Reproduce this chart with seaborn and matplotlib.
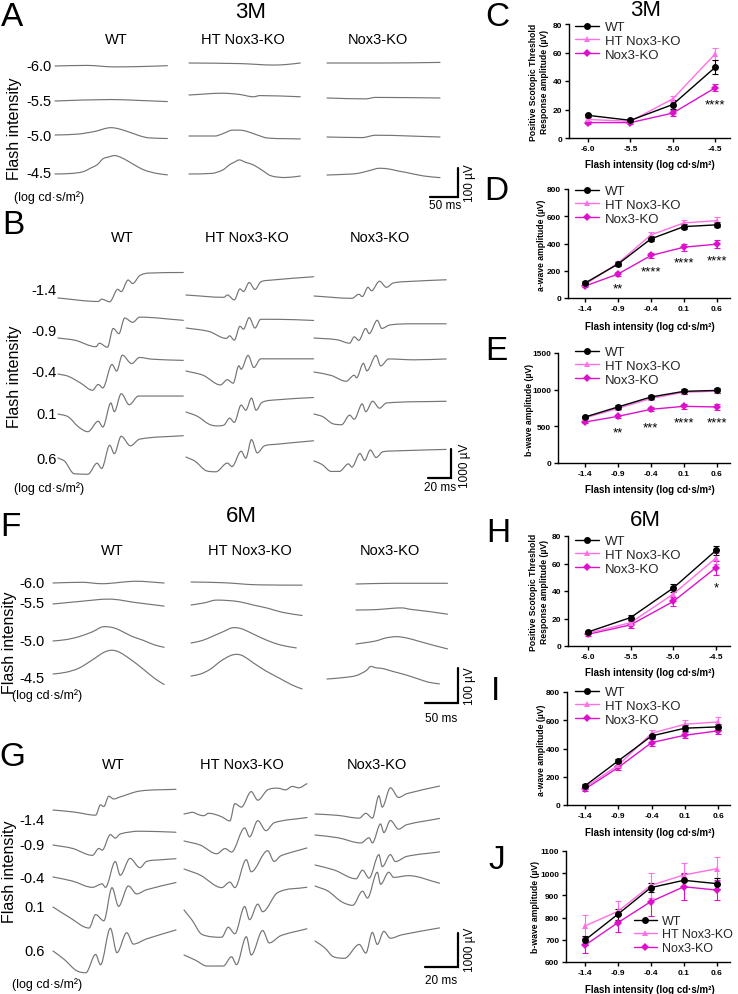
import numpy as np
import pandas as pd
import matplotlib
matplotlib.use("Agg")
import matplotlib.pyplot as plt
from matplotlib.lines import Line2D
from matplotlib.path import Path
from matplotlib.patches import PathPatch
import seaborn as sns

# ---------------- data: summary graphs ----------------
GROUPS = ["WT", "HT Nox3-KO", "Nox3-KO"]
X_SCOT = ["-6.0", "-5.5", "-5.0", "-4.5"]
X_PHOT = ["-1.4", "-0.9", "-0.4", "0.1", "0.6"]

C_WT = [15.9, 12.4, 23.5, 49.6]; C_WT_E = [1.0, 0.8, 3.0, 5.0]
C_HT = [13.0, 11.7, 27.5, 59.0]; C_HT_E = [1.0, 0.8, 2.0, 4.0]
C_KO = [10.8, 10.8, 17.5, 35.2]; C_KO_E = [1.0, 0.8, 2.0, 2.5]

D_WT = [110, 249, 434, 524, 537]; D_WT_E = [12, 12, 18, 20, 18]
D_HT = [100, 256, 463, 551, 568]; D_HT_E = [12, 14, 22, 25, 25]
D_KO = [88, 176, 312, 373, 395]; D_KO_E = [10, 12, 20, 25, 28]

E_WT = [627, 764, 900, 977, 990]; E_WT_E = [20, 28, 28, 35, 35]
E_HT = [615, 745, 880, 965, 980]; E_HT_E = [20, 25, 25, 30, 30]
E_KO = [559, 636, 732, 773, 764]; E_KO_E = [20, 25, 25, 35, 35]

H_WT = [10.2, 20.7, 42.2, 69.5]; H_WT_E = [1.0, 2.0, 3.0, 3.0]
H_HT = [9.3, 17.0, 37.8, 64.0]; H_HT_E = [1.0, 2.0, 3.0, 4.0]
H_KO = [8.5, 15.4, 32.4, 57.0]; H_KO_E = [1.0, 2.5, 3.5, 5.0]

I_WT = [136, 313, 489, 544, 553]; I_WT_E = [12, 15, 15, 20, 20]
I_HT = [125, 282, 508, 572, 588]; I_HT_E = [15, 20, 25, 30, 35]
I_KO = [113, 266, 442, 494, 525]; I_KO_E = [12, 18, 22, 22, 25]

J_WT = [698, 815, 935, 968, 953]; J_WT_E = [20, 25, 20, 30, 25]
J_HT = [762, 828, 945, 992, 1020]; J_HT_E = [50, 45, 55, 55, 55]
J_KO = [675, 777, 872, 939, 924]; J_KO_E = [35, 40, 65, 60, 45]

# stars: (category index, value)
C_STARS = [(3, 27, "****")]
D_STARS = [(1, 105, "**"), (2, 227, "****"), (3, 295, "****"), (4, 307, "****")]
E_STARS = [(1, 482, "**"), (2, 550, "***"), (3, 614, "****"), (4, 614, "****")]
H_STARS = [(3, 46, "*")]

# ---------------- data: representative traces (time ms, amplitude uV) ----------------
A_WT = [
    [(0, 0), (56, 2), (105, -3), (148, -2), (199, 1)],
    [(0, 0), (99, 5), (148, 2), (199, -2)],
    [(0, 0), (40, 3), (70, 12), (99, 25), (115, 20), (140, 4), (160, -8), (180, -11), (199, -12)],
    [(0, 0), (30, 2), (50, 8), (65, 22), (75, 32), (85, 52), (95, 58), (105, 63), (115, 58),
     (130, 43), (145, 26), (160, 12), (180, 2), (199, -3)],
]
A_HT = [
    [(0, 0), (89, -2), (151, -7), (173, -5), (197, 0)],
    [(0, 0), (59, 6), (89, 2), (114, -6), (126, -2), (197, -6)],
    [(0, 0), (46, 0), (60, 8), (77, 20), (90, 20), (102, 16), (120, 4), (139, -7), (170, -9), (197, -10)],
    [(0, 0), (40, 2), (60, 14), (72, 32), (80, 40), (89, 48), (100, 40), (114, 31), (130, 12),
     (145, -6), (170, -12), (197, -7)],
]
A_KO = [
    [(0, 0), (100, 0), (200, 2)],
    [(0, 0), (68, -3), (86, 2), (200, 0)],
    [(0, 0), (62, -2), (86, 6), (200, 0)],
    [(0, 0), (40, 3), (56, 6), (75, 15), (93, 23), (111, 20), (125, 14), (142, 8), (170, -3), (200, -9)],
]

B_WT = [
    [(0, 0), (35, -120), (38, -40), (45, -130), (52, 300), (55, 220), (61, 620), (65, 500), (71, 770),
     (79, 860), (109, 880)],
    [(0, 0), (15, -80), (33, -300), (36, -180), (43, -320), (48, 330), (53, 150), (58, 690), (65, 540),
     (71, 720), (109, 610)],
    [(0, 0), (9, -80), (20, -320), (30, -560), (35, -360), (39, -480), (47, 330), (51, 100), (56, 650),
     (64, 360), (71, 570), (82, 510), (109, 470)],
    [(0, 0), (9, -100), (18, -450), (26, -610), (35, -250), (39, -450), (46, 380), (49, 80), (55, 700),
     (62, 320), (70, 620), (109, 620)],
    [(0, 0), (6, -120), (14, -540), (26, -560), (34, -180), (38, -360), (45, 440), (49, 150), (55, 750),
     (63, 420), (71, 650), (109, 770)],
]
B_HT = [
    [(0, 0), (33, -80), (36, 0), (42, -170), (47, 210), (50, 120), (55, 430), (60, 190), (65, 450),
     (73, 510), (111, 630)],
    [(0, 0), (20, -120), (35, -360), (38, -270), (42, -420), (47, 60), (50, -40), (55, 360), (60, 0),
     (65, 300), (79, 300), (111, 260)],
    [(0, 0), (15, -150), (30, -480), (36, -300), (41, -420), (46, 180), (48, 60), (54, 540), (59, 120),
     (65, 420), (73, 420), (111, 420)],
    [(0, 0), (10, -150), (20, -420), (27, -480), (33, -450), (38, -210), (42, -360), (48, 240), (52, 60),
     (57, 480), (61, 60), (66, 330), (79, 420), (111, 500)],
    [(0, 0), (8, -150), (18, -480), (26, -510), (36, -210), (40, -330), (48, 200), (52, -40), (57, 600),
     (62, 140), (68, 380), (79, 440), (111, 560)],
]
B_KO = [
    [(0, 0), (33, -80), (39, 60), (42, -20), (47, 300), (50, 180), (57, 510), (63, 300), (69, 450),
     (87, 510), (115, 560)],
    [(0, 0), (20, -60), (31, -180), (35, 40), (39, -80), (45, 330), (48, 150), (55, 610), (59, 330),
     (66, 450), (87, 490), (115, 490)],
    [(0, 0), (15, -120), (28, -320), (35, -110), (37, -200), (43, 300), (46, 40), (54, 570), (58, 210),
     (65, 450), (87, 420), (115, 450)],
    [(0, 0), (8, -100), (16, -330), (24, -370), (31, -40), (35, -180), (42, 350), (45, 80), (51, 440),
     (57, 200), (63, 380), (115, 440)],
    [(0, 0), (7, -120), (15, -360), (22, -360), (30, -100), (33, -210), (40, 260), (44, 20), (49, 380),
     (54, 120), (60, 320), (72, 350), (115, 400)],
]

F_WT = [
    [(0, 0), (44, 2), (75, -2), (127, 5), (170, 0)],
    [(0, 0), (39, 7), (86, 14), (127, 4), (170, -6)],
    [(0, 0), (20, 4), (39, 12), (60, 26), (78, 41), (90, 39), (101, 32), (120, 14), (138, 2), (155, -11),
     (170, -18)],
    [(0, 0), (20, 5), (40, 17), (60, 40), (78, 62), (90, 68), (102, 62), (120, 40), (138, 14), (155, -12),
     (170, -30)],
]
F_HT = [
    [(0, 0), (49, -2), (101, -8), (170, -9)],
    [(0, 0), (20, 6), (39, 14), (55, 13), (75, 9), (95, 0), (117, -9), (140, -21), (170, -30)],
    [(0, 0), (17, 7), (34, 20), (50, 33), (65, 44), (75, 42), (86, 34), (105, 17), (127, 0), (145, -9),
     (161, -14)],
    [(0, 0), (15, 6), (30, 20), (45, 42), (60, 58), (70, 62), (80, 57), (95, 38), (115, 14), (135, -6),
     (155, -26), (170, -37)],
]
F_KO = [
    [(0, 0), (57, 2), (140, 2)],
    [(0, 0), (30, 1), (57, 5), (70, 6), (83, 2), (110, -4), (140, -12)],
    [(0, 0), (15, 4), (31, 9), (45, 17), (62, 21), (78, 17), (94, 9), (115, -2), (140, -14)],
    [(0, 0), (25, 4), (45, 10), (60, 24), (67, 36), (75, 32), (85, 30), (100, 22), (120, 12), (140, 0),
     (155, -9), (172, -14)],
]

G_WT = [
    [(0, 0), (13, -60), (26, -150), (29, 150), (31, 100), (34, 400), (37, 320), (41, 380), (53, 550),
     (75, 600)],
    [(0, 0), (12, -100), (24, -300), (28, -100), (30, -150), (35, 300), (38, 200), (41, 320), (53, 400),
     (75, 370)],
    [(0, 0), (12, -120), (24, -300), (30, -200), (32, -300), (38, 450), (41, 50), (47, 540), (53, 270),
     (57, 450), (66, 500), (75, 530)],
    [(0, 0), (10, -300), (22, -610), (26, -220), (31, -400), (36, 560), (40, 20), (46, 610), (51, 380),
     (57, 500), (75, 710)],
    [(0, 0), (7, -250), (14, -560), (20, -630), (26, -100), (29, -400), (35, 660), (39, -50), (45, 530),
     (49, 200), (57, 350), (75, 610)],
]
G_HT = [
    [(0, 0), (3, 30), (5, 50), (9, -20), (12, -50), (15, 20), (18, 0), (23, -80), (28, -200), (31, 300),
     (35, 200), (41, 650), (45, 400), (51, 700), (57, 750), (62, 700), (66, 800), (70, 760), (75, 880)],
    [(0, 0), (10, -120), (20, -370), (25, -220), (29, -320), (37, 380), (40, 120), (45, 590), (50, 300),
     (55, 530), (75, 680)],
    [(0, 0), (10, -180), (23, -540), (28, -380), (31, -540), (38, 270), (41, -80), (51, 530), (55, 220),
     (59, 380), (75, 610)],
    [(0, 0), (5, -300), (11, -710), (23, -790), (27, -500), (31, -690), (37, 100), (40, -280), (45, 170),
     (48, -50), (57, 500), (75, 660)],
    [(0, 0), (7, -150), (14, -320), (24, -320), (29, -50), (32, -280), (38, 530), (41, 0), (48, 710),
     (52, 350), (59, 560), (75, 760)],
]
G_KO = [
    [(0, 0), (14, -40), (27, -120), (31, 20), (35, -120), (39, 530), (41, 200), (46, 760), (51, 480),
     (56, 590), (76, 810)],
    [(0, 0), (14, -80), (28, -230), (33, -80), (35, -230), (40, 320), (42, 70), (46, 420), (51, 170),
     (56, 300), (76, 480)],
    [(0, 0), (12, -150), (25, -400), (29, -150), (33, -380), (39, 300), (41, -50), (46, 300), (49, 100),
     (56, 250), (76, 380)],
    [(0, 0), (8, -150), (16, -450), (23, -560), (29, -150), (32, -350), (38, 400), (40, 50), (45, 400),
     (48, 250), (57, 300), (76, 80)],
    [(0, 0), (6, -200), (11, -450), (18, -500), (27, -100), (31, -350), (35, 250), (38, -100), (42, 280),
     (46, 80), (53, 180), (76, 380)],
]

# ---------------- style ----------------
sns.set_theme(style="ticks")
plt.rcParams["font.family"] = ["Liberation Sans", "DejaVu Sans"]
plt.rcParams["axes.linewidth"] = 1.0

COL = {"WT": "#000000", "HT Nox3-KO": "#FF6FE6", "Nox3-KO": "#DD11CC"}
MARK = {"WT": "o", "HT Nox3-KO": "^", "Nox3-KO": "D"}
MS = {"WT": 5.0, "HT Nox3-KO": 5.0, "Nox3-KO": 3.8}
TRACE_C = "#747474"

W, H = 738, 995
fig = plt.figure(figsize=(W / 100, H / 100), dpi=100)

ov = fig.add_axes([0, 0, 1, 1])
ov.set_xlim(0, W)
ov.set_ylim(H, 0)
ov.axis("off")


def T(x, y, s, size, ha="center", va="center", rot=0, weight="normal"):
    fig.text(x / W, 1 - y / H, s, fontsize=size, ha=ha, va=va, rotation=rot,
             fontweight=weight, color="black")


def smooth_path(x, y):
    """Bezier path through the given points (flat tangents at local extrema)."""
    n = len(x)
    d = np.diff(y) / np.diff(x)
    m = np.zeros(n)
    m[0], m[-1] = d[0], d[-1]
    for i in range(1, n - 1):
        if d[i - 1] * d[i] > 0:
            mi = (y[i + 1] - y[i - 1]) / (x[i + 1] - x[i - 1])
            lim = 3 * min(abs(d[i - 1]), abs(d[i]))
            m[i] = np.sign(mi) * min(abs(mi), lim)
    verts = [(x[0], y[0])]
    codes = [Path.MOVETO]
    for i in range(n - 1):
        h = x[i + 1] - x[i]
        verts += [(x[i] + h / 3, y[i] + m[i] * h / 3),
                  (x[i + 1] - h / 3, y[i + 1] - m[i + 1] * h / 3),
                  (x[i + 1], y[i + 1])]
        codes += [Path.CURVE4] * 3
    return Path(verts, codes)


def draw_traces(groups, x0s, y0s, ms_px, uv_px):
    for trs, x0, ys in zip(groups, x0s, y0s):
        for i, (tr, y0) in enumerate(zip(trs, ys)):
            xs = x0[i] if isinstance(x0, list) else x0
            t = np.array([p[0] for p in tr], float)
            v = np.array([p[1] for p in tr], float)
            path = smooth_path(xs + t / ms_px, y0 - v / uv_px)
            ov.add_patch(PathPatch(path, fill=False, edgecolor=TRACE_C, lw=0.85,
                                   joinstyle="round", capstyle="round"))


def scale_bar(cx, cy, ms, uv, ms_px, uv_px, tlab, vlab, tpos, vpos):
    ov.plot([cx - ms / ms_px, cx, cx], [cy, cy, cy - uv / uv_px], color="black", lw=1.6,
            solid_joinstyle="miter")
    T(tpos[0], tpos[1], tlab, 8.5)
    T(vpos[0], vpos[1], vlab, 8.5, rot=90)


def trace_panel(letter, lpos, headers, hy, hx, rows, ry, rx, fi_pos, lc_pos, title=None, tpos=None):
    T(lpos[0], lpos[1], letter, 24)
    if title:
        T(tpos[0], tpos[1], title, 16)
    for hxx, h in zip(hx, headers):
        T(hxx, hy, h, 10.5)
    for r, y in zip(rows, ry):
        T(rx, y, r, 10.5, ha="right")
    T(fi_pos[0], fi_pos[1], "Flash intensity", 11.5, rot=90)
    T(lc_pos[0], lc_pos[1], "(log cd\u00b7s/m\u00b2)", 9)


# ---- Panel A ----
A_MS, A_UV = 1.77, 3.41
trace_panel("A", (12, 17), GROUPS, 40, [116, 243, 378], X_SCOT, [67, 102, 137, 174], 52,
            (15, 129), (49, 198), "3M", (251, 12))
draw_traces([A_WT, A_HT, A_KO], [55, 189, 327],
            [[67, 102, 136, 175], [64, 96, 137, 175], [64, 99, 138, 176]], A_MS, A_UV)
scale_bar(458, 198, 50, 100, A_MS, A_UV, "50 ms", "100 \u00b5V", (445, 206), (470, 183))

# ---- Panel B ----
B_MS, B_UV = 0.87, 34.5
trace_panel("B", (13, 226), GROUPS, 238, [122, 247, 380], X_PHOT, [291, 332, 373, 415, 460], 57,
            (15, 377), (49, 489))
draw_traces([B_WT, B_HT, B_KO], [58, 186, 314],
            [[299, 339, 375, 415, 459], [296, 329, 372, 413, 458], [297, 339, 373, 415, 462]],
            B_MS, B_UV)
scale_bar(451, 479, 20, 1000, B_MS, B_UV, "20 ms", "1000 \u00b5V", (440, 488), (465, 466))

# ---- Panel F ----
F_MS, F_UV = 1.53, 2.86
trace_panel("F", (10, 528), GROUPS, 551, [112, 250, 390], X_SCOT, [584, 604, 642, 679], 45,
            (10, 643), (47, 696), "6M", (241, 516))
draw_traces([F_WT, F_HT, F_KO], [53, 191, [356, 356, 356, 327]],
            [[584, 605, 642, 675], [583, 606, 644, 677], [585, 611, 645, 680]], F_MS, F_UV)
scale_bar(458, 704, 50, 100, F_MS, F_UV, "50 ms", "100 \u00b5V", (441, 719), (470, 686))

# ---- Panel G ----
G_MS, G_UV = 0.61, 29.0
trace_panel("G", (12, 758), GROUPS, 765, [113, 242, 377], X_PHOT, [821, 846, 879, 908, 952], 45,
            (10, 872), (47, 985))
draw_traces([G_WT, G_HT, G_KO], [53, 184, 315],
            [[811, 846, 878, 908, 952], [815, 842, 870, 911, 956], [815, 836, 866, 887, 942]],
            G_MS, G_UV)
scale_bar(458, 968, 20, 1000, G_MS, G_UV, "20 ms", "1000 \u00b5V", (441, 981), (470, 950))


# ---------------- summary graphs ----------------
def graph(box, xlabels, series, errs, ylim, yticks, xlim, ylabel, ylab_pos, xlab_y,
          letter, lpos, leg_pos, stars=(), title=None, tpos=None, leg_fs=9.5):
    l, t, r, b = box
    ax = fig.add_axes([l / W, 1 - b / H, (r - l) / W, (b - t) / H])
    n = len(xlabels)
    df = pd.DataFrame({
        "pos": np.tile(np.arange(n), 3),
        "val": np.concatenate([np.asarray(s, float) for s in series]),
        "group": np.repeat(GROUPS, n),
    })
    order = ["Nox3-KO", "HT Nox3-KO", "WT"]
    for g in order:
        k = GROUPS.index(g)
        ax.errorbar(np.arange(n), series[k], yerr=errs[k], fmt="none", ecolor=COL[g],
                    elinewidth=0.8, capsize=2.2, capthick=0.8, zorder=2)
    sns.lineplot(data=df, x="pos", y="val", hue="group", style="group", hue_order=order,
                 style_order=order, palette=COL, markers=MARK, dashes=False, linewidth=1.0,
                 markersize=5, markeredgewidth=0, legend=False, ax=ax, zorder=3)
    for ln, g in zip(ax.lines[-3:], order):
        ln.set_markersize(MS[g])
    ax.set_xlim(*xlim)
    ax.set_ylim(*ylim)
    ax.set_xticks(range(n))
    ax.set_xticklabels(xlabels, fontsize=6.0, fontweight="bold")
    ax.set_yticks(yticks)
    ax.set_yticklabels([str(v) for v in yticks], fontsize=6.0, fontweight="bold")
    ax.tick_params(direction="out", length=3, width=1.0, pad=1.8, colors="black")
    ax.set_xlabel("")
    ax.set_ylabel("")
    ax.set_facecolor("none")
    for s in ["top", "right"]:
        ax.spines[s].set_visible(False)
    for s in ["left", "bottom"]:
        ax.spines[s].set_color("black")
        ax.spines[s].set_linewidth(1.0)
    for (i, v, s) in stars:
        ax.annotate(s, xy=(i, v), xytext=(0, -5.5), textcoords="offset points",
                    ha="center", va="baseline", fontsize=9.5, color="black")
    handles = [Line2D([0], [0], color=COL[g], marker=MARK[g], ms=MS[g], lw=1.0, mew=0)
               for g in GROUPS]
    ax.legend(handles, GROUPS, loc="upper left", bbox_to_anchor=(leg_pos[0] / W, 1 - leg_pos[1] / H),
              bbox_transform=fig.transFigure, frameon=False, fontsize=leg_fs, handlelength=1.8,
              handletextpad=0.45, labelspacing=0.12, borderpad=0, borderaxespad=0)
    T(ylab_pos[0], ylab_pos[1], ylabel, 6.2, rot=90, weight="bold")
    T(650, xlab_y, "Flash intensity (log cd\u00b7s/m\u00b2)", 7, weight="bold")
    T(lpos[0], lpos[1], letter, 24)
    if title:
        T(tpos[0], tpos[1], title, 16)
    return ax


SCOT_Y = "Positive Scotopic Threshold\nResponse amplitude (\u00b5V)"
graph((569, 25, 730, 139), X_SCOT, [C_WT, C_HT, C_KO], [C_WT_E, C_HT_E, C_KO_E], (0, 80),
      [0, 20, 40, 60, 80], (-0.45, 3.35), SCOT_Y, (539, 82), 165, "C", (497, 17), (575, 22),
      C_STARS, "3M", (646, 11))
graph((568, 190, 730, 299), X_PHOT, [D_WT, D_HT, D_KO], [D_WT_E, D_HT_E, D_KO_E], (0, 800),
      [0, 200, 400, 600, 800], (-0.52, 4.4), "a-wave amplitude (\u00b5V)", (541, 245), 327,
      "D", (496, 192), (575, 186), D_STARS)
graph((558, 354, 730, 464), X_PHOT, [E_WT, E_HT, E_KO], [E_WT_E, E_HT_E, E_KO_E], (0, 1500),
      [0, 500, 1000, 1500], (-0.82, 4.4), "b-wave amplitude (\u00b5V)", (529, 410), 490,
      "E", (496, 351), (575, 347), E_STARS)
graph((568, 537, 730, 647), X_SCOT, [H_WT, H_HT, H_KO], [H_WT_E, H_HT_E, H_KO_E], (0, 80),
      [0, 20, 40, 60, 80], (-0.47, 3.33), SCOT_Y, (539, 592), 673, "H", (498, 533), (575, 536),
      H_STARS, "6M", (645, 520))
graph((567, 693, 730, 806), X_PHOT, [I_WT, I_HT, I_KO], [I_WT_E, I_HT_E, I_KO_E], (0, 800),
      [0, 200, 400, 600, 800], (-0.54, 4.35), "a-wave amplitude (\u00b5V)", (541, 750), 833,
      "I", (495, 692), (575, 687))
graph((566, 852, 730, 963), X_PHOT, [J_WT, J_HT, J_KO], [J_WT_E, J_HT_E, J_KO_E], (600, 1100),
      list(range(600, 1101, 100)), (-0.57, 4.4), "b-wave amplitude (\u00b5V)", (536, 907), 990,
      "J", (497, 861), (634, 916), leg_fs=9.0)

fig.savefig("out.png", dpi=100)
